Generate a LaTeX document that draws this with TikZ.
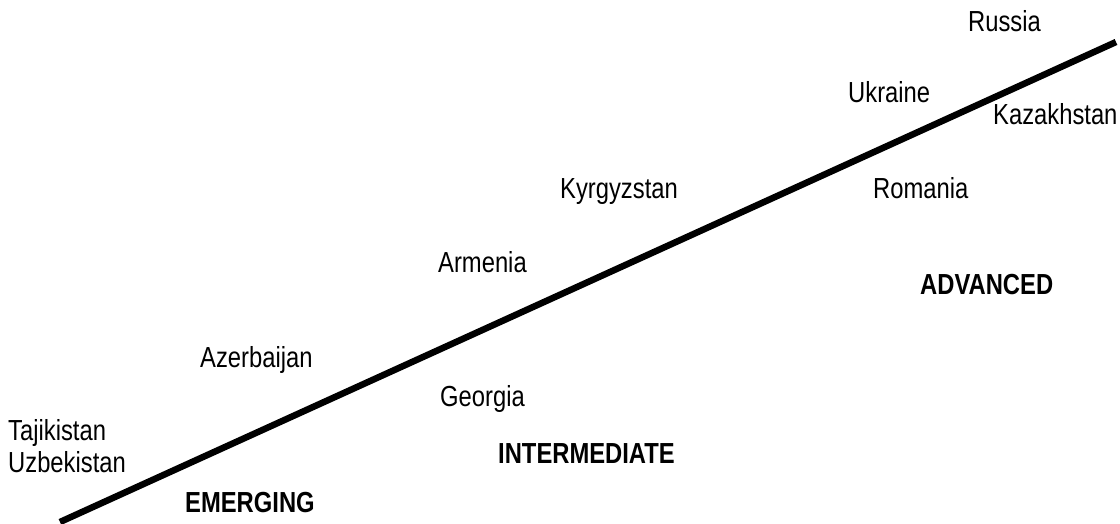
\documentclass[tikz,border=0pt]{standalone}
\usepackage{fontspec}
\setmainfont{Liberation Sans}[FakeStretch=0.82]
\usepackage{tikz}
\usetikzlibrary{positioning}

\begin{document}
\begin{tikzpicture}[x=1pt,y=-1pt,
   country/.style={inner sep=0pt,anchor=base west,font=\fontsize{29}{32}\selectfont},
   stage/.style={country,font=\fontsize{29}{32}\selectfont\bfseries},
   axisline/.style={line width=6.5pt}]
   \useasboundingbox (0,0) rectangle (1120,524);

   \coordinate (lo) at (60,522);
   \coordinate (hi) at (1116,42);
   \draw[axisline] (lo) -- (hi);

   \node[country] (rus) at (968,32) {Russia};
   \node[country] (ukr) at (848,103) {Ukraine};
   \node[country] (kaz) at (993,125) {Kazakhstan};
   \node[country] (kgz) at (560,199) {Kyrgyzstan};
   \node[country] (rom) at (873,199) {Romania};
   \node[country] (arm) at (438,272) {Armenia};
   \node[country] (aze) at (200,367) {Azerbaijan};
   \node[country] (geo) at (440,406) {Georgia};
   \node[country] (tjk) at (8,440) {Tajikistan};
   \node[country] (uzb) at (8,472) {Uzbekistan};

   \node[stage] (adv) at (920,294) {ADVANCED};
   \node[stage] (mid) at (498,463) {INTERMEDIATE};
   \node[stage] (emg) at (185,512) {EMERGING};
\end{tikzpicture}
\end{document}
